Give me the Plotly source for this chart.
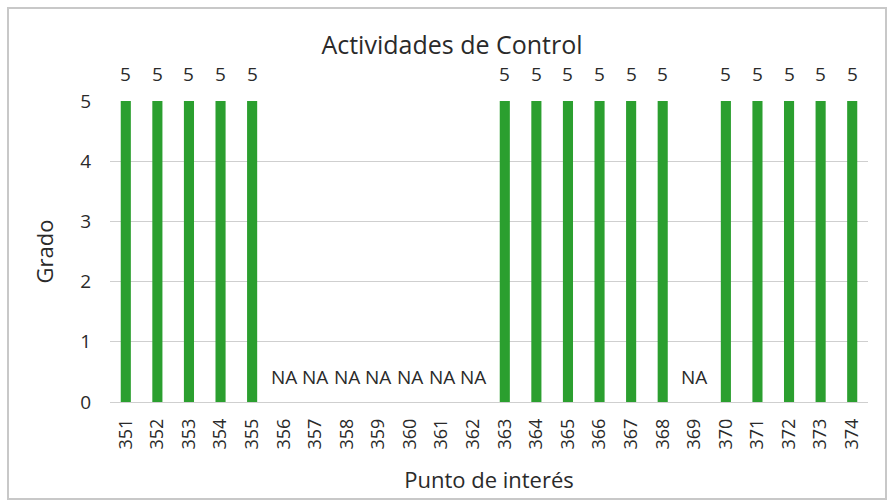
import plotly.graph_objects as go

categories = [str(c) for c in range(351, 375)]
values = [5, 5, 5, 5, 5, None, None, None, None, None, None, None,
          5, 5, 5, 5, 5, 5, None, 5, 5, 5, 5, 5]
y_ticks = [0, 1, 2, 3, 4, 5]

FONT = "Open Sans"
GREEN = "#2b9f2f"
TXT = "#2a2a2a"

fig = go.Figure()
fig.add_trace(go.Bar(
    x=categories,
    y=[v if v is not None else 0 for v in values],
    marker=dict(color=GREEN, line=dict(width=0)),
    hoverinfo="x+y",
))

for i, v in enumerate(values):
    if v is None:
        fig.add_annotation(x=i, y=0, text="NA", showarrow=False, yanchor="bottom",
                           yshift=10, font=dict(family=FONT, size=19, color=TXT))
    else:
        fig.add_annotation(x=i, y=v, text=str(v), showarrow=False, yanchor="bottom",
                           yshift=12, font=dict(family=FONT, size=19, color=TXT))

# outer frame
fig.add_shape(type="rect", xref="paper", yref="paper",
              x0=(8 - 110) / 758, x1=(886 - 110) / 758,
              y0=(402 - 499) / 301, y1=(402 - 8) / 301,
              line=dict(color="#c8c8c8", width=2), fillcolor="rgba(0,0,0,0)", layer="below")

fig.update_layout(
    width=892, height=503,
    margin=dict(l=110, r=24, t=101, b=101),
    paper_bgcolor="white", plot_bgcolor="white",
    showlegend=False,
    bargap=0.68,
    font=dict(family=FONT, color=TXT),
    title=dict(text="Actividades de Control", x=(452 - 110) / 758, xanchor="center",
               xref="paper",
               y=1 - 45 / 503, yanchor="middle",
               font=dict(family=FONT, size=25, color=TXT)),
    xaxis=dict(
        type="category",
        range=[-0.5, len(categories) - 0.5],
        tickangle=-90,
        tickfont=dict(family=FONT, size=18, color=TXT),
        showgrid=False,
        showline=False,
        ticks="",
        ticklabelstandoff=12,
        title=dict(text="Punto de interés", font=dict(family=FONT, size=22, color=TXT),
                   standoff=24),
    ),
    yaxis=dict(
        range=[0, 5],
        tickvals=y_ticks,
        tickfont=dict(family=FONT, size=19, color=TXT),
        showgrid=True, gridcolor="#cfcfcf", gridwidth=1,
        zeroline=True, zerolinecolor="#cfcfcf", zerolinewidth=1,
        showline=False,
        ticks="",
        ticklabelstandoff=18,
        title=dict(text="Grado", font=dict(family=FONT, size=22, color=TXT),
                   standoff=20),
    ),
)

fig.write_html("out.html", config={"displayModeBar": False},
               post_script="document.body.style.margin='0';")
